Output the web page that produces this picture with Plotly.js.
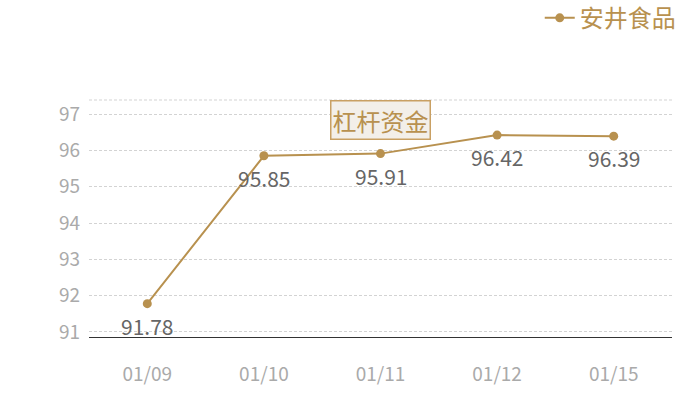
<!DOCTYPE html>
<html><head><meta charset="utf-8">
<script src="https://cdn.plot.ly/plotly-3.0.1.min.js"></script>
<style>html,body{margin:0;padding:0;background:#fff;}</style>
</head><body>
<div id="chart" style="width:700px;height:400px;"></div>
<script>
const categories = ["01/09", "01/10", "01/11", "01/12", "01/15"];
const values = [91.78, 95.85, 95.91, 96.42, 96.39];
const seriesName = "安井食品";
const chartTitle = "杠杆资金";
const yTicks = [91, 92, 93, 94, 95, 96, 97];

const gold = "#b8914f";
const font = "Noto Sans CJK SC, Noto Sans, sans-serif";

const trace = {
  x: categories, y: values, name: seriesName,
  type: "scatter", mode: "lines+markers",
  line: {color: gold, width: 2},
  marker: {color: gold, size: 9},
  cliponaxis: false,
  hoverinfo: "none"
};

const labelAnnotations = categories.map((c, i) => ({
  x: c, y: values[i], xref: "x", yref: "y",
  text: values[i].toFixed(2), showarrow: false,
  xanchor: "center", yanchor: "middle", yshift: -22,
  font: {family: font, size: 21, color: "#666666"}
}));

const layout = {
  width: 700, height: 400,
  margin: {l: 89, r: 28, t: 100, b: 63, autoexpand: false},
  paper_bgcolor: "#ffffff", plot_bgcolor: "#ffffff",
  font: {family: font},
  showlegend: true,
  legend: {x: 1.015, xanchor: "right", y: 1.345, yanchor: "middle", orientation: "h",
           font: {family: font, size: 24, color: gold}, bgcolor: "rgba(0,0,0,0)"},
  xaxis: {type: "category", range: [-0.5, 4.5], showgrid: false, zeroline: false,
          showline: true, linecolor: "#333333", linewidth: 1.2, ticks: "",
          tickfont: {family: font, size: 19, color: "#aaaaaa"}, ticklabelstandoff: 20,
          fixedrange: true},
  yaxis: {range: [90.862, 97.386], tickvals: yTicks, showgrid: true,
          gridcolor: "#d3d3d3", griddash: "3px,2px", gridwidth: 1, zeroline: false,
          showline: false, ticks: "", ticklabelstandoff: 8,
          tickfont: {family: font, size: 19, color: "#aaaaaa"}, fixedrange: true},
  shapes: [{type: "line", xref: "paper", yref: "paper", x0: 0, x1: 1, y0: 1, y1: 1,
            line: {color: "#d3d3d3", width: 1, dash: "3px,2px"}}],
  annotations: [{text: chartTitle, xref: "paper", yref: "paper", x: 0.5, y: 1.0,
                 xanchor: "center", yanchor: "top", yshift: 0, showarrow: false,
                 font: {family: font, size: 24, color: gold},
                 bgcolor: "#f3efe9", bordercolor: "#c9a063", borderwidth: 1.5, borderpad: 1}]
                 .concat(labelAnnotations)
};

Plotly.newPlot("chart", [trace], layout, {displayModeBar: false, staticPlot: true});
</script>
</body></html>
